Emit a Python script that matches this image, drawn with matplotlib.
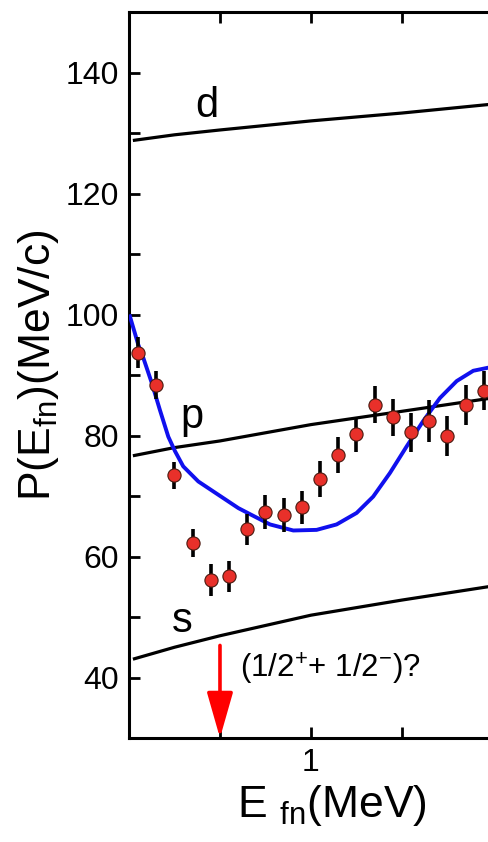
import numpy as np
import matplotlib
matplotlib.use("Agg")
import matplotlib.pyplot as plt
from matplotlib.ticker import FixedLocator, NullFormatter

plt.rcParams['font.family'] = ['Liberation Sans', 'DejaVu Sans']
plt.rcParams['mathtext.fontset'] = 'custom'
plt.rcParams['mathtext.rm'] = 'Liberation Sans'
plt.rcParams['mathtext.it'] = 'Liberation Sans:italic'

# measured momentum vs. neutron energy
e_data = [0.05, 0.15, 0.25, 0.35, 0.45, 0.55, 0.65, 0.75, 0.85, 0.95,
          1.05, 1.15, 1.25, 1.35, 1.45, 1.55, 1.65, 1.75, 1.85, 1.95]
p_data = [93.7, 88.4, 73.4, 62.2, 56.1, 56.7, 64.5, 67.3, 66.8, 68.1,
          72.8, 76.8, 80.2, 85.1, 83.0, 80.5, 82.4, 79.9, 85.1, 87.4]
p_err = [2.6, 2.3, 2.2, 2.3, 2.6, 2.6, 2.6, 2.8, 2.8, 2.8,
         3.0, 3.0, 2.9, 3.1, 3.1, 3.2, 3.4, 3.3, 3.3, 3.2]

# fitted curve
e_fit = [0.005, 0.051, 0.079, 0.125, 0.170, 0.216, 0.253, 0.298, 0.381,
         0.491, 0.601, 0.665, 0.775, 0.903, 1.031, 1.141, 1.251, 1.342,
         1.434, 1.526, 1.617, 1.709, 1.801, 1.892, 1.973]
p_fit = [99.7, 95.0, 92.8, 88.7, 84.2, 79.8, 77.4, 74.9, 72.4,
         70.2, 68.0, 67.0, 65.3, 64.3, 64.4, 65.3, 67.2, 69.9,
         73.8, 78.2, 82.4, 86.2, 89.0, 90.7, 91.2]

# s, p, d curves
e_wave = [0.03, 0.25, 0.5, 1.0, 1.5, 1.973]
p_s = [43.1, 45.0, 46.9, 50.3, 52.8, 55.0]
p_p = [76.7, 78.0, 79.1, 81.8, 84.0, 86.1]
p_d = [128.8, 129.7, 130.5, 132.0, 133.3, 134.7]
wave_labels = ['s', 'p', 'd']
label_pos = [(0.29, 49.4), (0.344, 83.1), (0.43, 134.5)]

arrow_e = 0.5
arrow_top = 45.3

fig = plt.figure(figsize=(4.88, 8.42), dpi=100)
ax = fig.add_axes([129/488, 104/842, 359/488, 726/842])

for pw in [p_s, p_p, p_d]:
    ax.plot(e_wave, pw, color='black', lw=2.3, zorder=2)
for lab, (xx, yy) in zip(wave_labels, label_pos):
    ax.text(xx, yy, lab, fontsize=30, ha='center', va='center')

ax.plot(e_fit, p_fit, color='#1010ee', lw=2.8, zorder=3)
ax.errorbar(e_data, p_data, yerr=p_err, fmt='none', ecolor='black',
            elinewidth=2.6, capsize=0, zorder=4)
ax.plot(e_data, p_data, 'o', color='#e8302a', markersize=9.5,
        markeredgecolor='#4a1a10', markeredgewidth=0.8, zorder=5)

ax.annotate('', xy=(arrow_e, 30), xytext=(arrow_e, arrow_top),
            arrowprops=dict(arrowstyle='-|>,head_length=2.8,head_width=0.8',
                            color='red', lw=2.6, shrinkA=0, shrinkB=0,
                            mutation_scale=10),
            annotation_clip=False, zorder=6)
ax.text(0.61, 41.5, r'(1/2$^{+}$+ 1/2$^{-}$)?', fontsize=22.5,
        ha='left', va='center')

ax.set_xlim(0, 1.973)
ax.set_ylim(30, 150)
ax.xaxis.set_major_locator(FixedLocator([1]))
ax.xaxis.set_minor_locator(FixedLocator([0.5, 1.5]))
ax.xaxis.set_minor_formatter(NullFormatter())
ax.set_yticks([40, 60, 80, 100, 120, 140])
ax.yaxis.set_minor_locator(FixedLocator([50, 70, 90, 110, 130]))

ax.spines['right'].set_visible(False)
for sp in ['left', 'top', 'bottom']:
    ax.spines[sp].set_linewidth(2.2)
ax.tick_params(which='both', direction='in', top=True, right=False,
               length=8, width=2, labelsize=23, pad=7)

ax.set_xlabel(r'E $_{\mathrm{fn}}$(MeV)', fontsize=32)
ax.xaxis.set_label_coords(0.565, -0.062)
ax.set_ylabel(r'P(E$_{\mathrm{fn}}$)(MeV/c)', fontsize=32)
ax.yaxis.set_label_coords(-0.19, 0.514)

fig.savefig('out.png', dpi=100)
